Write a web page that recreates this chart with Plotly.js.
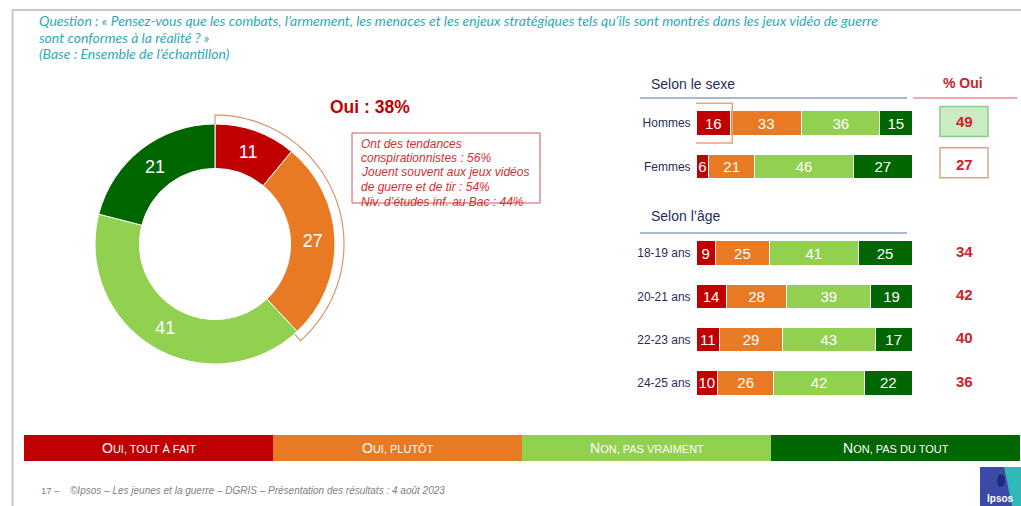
<!DOCTYPE html>
<html>
<head>
<meta charset="utf-8">
<script src="https://cdn.plot.ly/plotly-3.0.1.min.js"></script>
<style>html,body{margin:0;padding:0;background:#fff;}#chart{width:1021px;height:506px;}</style>
</head>
<body>
<div id="chart"></div>
<script>
// ---------- DATA ----------
const questionLines = [
  "Question : « Pensez-vous que les combats, l’armement, les menaces et les enjeux stratégiques tels qu’ils sont montrés dans les jeux vidéo de guerre",
  "sont conformes à la réalité ? »"
];
const baseNote = "(Base : Ensemble de l’échantillon)";
const categories = ["Oui, tout à fait", "Oui, plutôt", "Non, pas vraiment", "Non, pas du tout"];
const totalValues = [11, 27, 41, 21];
const yesNotes = [
  "Ont des tendances",
  "conspirationnistes : 56%",
  "Jouent souvent aux jeux vidéos",
  "de guerre et de tir : 54%",
  "Niv. d’études inf. au Bac : 44%"
];
const sexTitle = "Selon le sexe";
const ageTitle = "Selon l’âge";
const ouiTitle = "% Oui";
const sexLabels = ["Hommes", "Femmes"];
const ageLabels = ["18-19 ans", "20-21 ans", "22-23 ans", "24-25 ans"];
// values per group: Hommes, Femmes, 18-19, 20-21, 22-23, 24-25
const toutAFait   = [16, 6, 9, 14, 11, 10];
const plutot      = [33, 21, 25, 28, 29, 26];
const pasVraiment = [36, 46, 41, 39, 43, 42];
const pasDuTout   = [15, 27, 25, 19, 17, 22];
const footerNum = "17 –";
const footerText = "©Ipsos – Les jeunes et la guerre – DGRIS – Présentation des résultats : 4 août 2023";

// ---------- STYLE ----------
const colors = ["#c00000", "#e97a24", "#92d050", "#006600"];
const W = 1021, H = 506;
const SANS = "Liberation Sans, Arial, sans-serif";
const navy = "#1f2e5c";
const red = "#d0202a";
function px(x) { return x / W; }
function py(y) { return 1 - y / H; }

// ---------- ROWS ----------
const groupLabels = sexLabels.concat(ageLabels);
const rows = sexLabels.map((_, i) => i).concat(ageLabels.map((_, i) => sexLabels.length + 1 + i));
const seriesValues = [toutAFait, plutot, pasVraiment, pasDuTout];

// ---------- TRACES ----------
const pieDom = { x0: 95, x1: 335, y0: 124, y1: 364 };
const traces = [];
traces.push({
  type: "pie",
  values: totalValues,
  labels: categories,
  sort: false,
  direction: "clockwise",
  rotation: 0,
  hole: 0.63,
  marker: { colors: colors, line: { color: "#ffffff", width: 1 } },
  textinfo: "value",
  textposition: "inside",
  insidetextorientation: "horizontal",
  textfont: { family: SANS, size: 18, color: "#ffffff" },
  domain: { x: [px(pieDom.x0), px(pieDom.x1)], y: [py(pieDom.y1), py(pieDom.y0)] },
  showlegend: false,
  hoverinfo: "label+value"
});
seriesValues.forEach((vals, k) => {
  traces.push({
    type: "bar",
    orientation: "h",
    name: categories[k],
    x: vals,
    y: rows,
    width: 0.56,
    marker: { color: colors[k], line: { color: "#ffffff", width: 1 } },
    text: vals.map(String),
    textposition: "inside",
    insidetextanchor: "middle",
    textangle: 0,
    constraintext: "none",
    textfont: { family: SANS, size: 15, color: "#ffffff" },
    xaxis: "x", yaxis: "y",
    showlegend: false
  });
});

// ---------- SHAPES ----------
const shapes = [];
// frame
shapes.push({ type: "line", xref: "paper", yref: "paper", x0: px(12), x1: px(1021), y0: py(10), y1: py(10), line: { color: "#c8c8c8", width: 2 } });
shapes.push({ type: "line", xref: "paper", yref: "paper", x0: px(12.5), x1: px(12.5), y0: py(10), y1: py(506), line: { color: "#c8c8c8", width: 2 } });

// bracket around the "Oui" part of the donut
const cx = (pieDom.x0 + pieDom.x1) / 2, cy = (pieDom.y0 + pieDom.y1) / 2;
const rOut = (pieDom.x1 - pieDom.x0) / 2;
const yesShare = (totalValues[0] + totalValues[1]) / 100;
const thEnd = 2 * Math.PI * yesShare + 0.03;
const Rb = rOut + 9;
function pt(r, th) { return px(cx + r * Math.sin(th)).toFixed(5) + "," + py(cy - r * Math.cos(th)).toFixed(5); }
let path = "M" + pt(rOut, 0) + " L" + pt(Rb, 0);
for (let i = 1; i <= 60; i++) path += " L" + pt(Rb, thEnd * i / 60);
path += " L" + pt(rOut + 1, thEnd);
shapes.push({ type: "path", xref: "paper", yref: "paper", path: path, line: { color: "#d9956b", width: 1.2 } });

// note box
shapes.push({ type: "rect", xref: "paper", yref: "paper", x0: px(352), x1: px(540), y0: py(203), y1: py(133), line: { color: "#e05050", width: 1 } });

// section header lines
shapes.push({ type: "line", xref: "paper", yref: "paper", x0: px(640), x1: px(907), y0: py(98), y1: py(98), line: { color: "#a9b8d2", width: 2 } });
shapes.push({ type: "line", xref: "paper", yref: "paper", x0: px(913), x1: px(1017), y0: py(98), y1: py(98), line: { color: "#f4a8b0", width: 2 } });
shapes.push({ type: "line", xref: "paper", yref: "paper", x0: px(640), x1: px(907), y0: py(233), y1: py(233), line: { color: "#a9b8d2", width: 2 } });

// highlight on Hommes "tout à fait"
shapes.push({ type: "rect", xref: "x", yref: "y", x0: -3.3, x1: toutAFait[0] + 0.8, y0: rows[0] - 0.46, y1: rows[0] + 0.46, line: { color: "#f2a070", width: 1.5 } });

// % Oui boxes for sex rows
shapes.push({ type: "rect", xref: "paper", yref: "y", x0: px(940), x1: px(988), y0: rows[0] - 0.38, y1: rows[0] + 0.31, fillcolor: "#c9ecc4", line: { color: "#86cf86", width: 1.5 } });
shapes.push({ type: "rect", xref: "paper", yref: "y", x0: px(940), x1: px(988), y0: rows[1] - 0.43, y1: rows[1] + 0.26, fillcolor: "#ffffff", line: { color: "#dba484", width: 1.5 } });

// bottom legend band
const bandX0 = 24, bandX1 = 1020, bandY0 = 435, bandY1 = 461;
const segW = (bandX1 - bandX0) / categories.length;
categories.forEach((c, k) => {
  shapes.push({ type: "rect", xref: "paper", yref: "paper", x0: px(bandX0 + k * segW), x1: px(bandX0 + (k + 1) * segW), y0: py(bandY1), y1: py(bandY0), fillcolor: colors[k], line: { width: 0 } });
});

// Ipsos logo
shapes.push({ type: "rect", xref: "paper", yref: "paper", x0: px(980), x1: px(1021), y0: py(506), y1: py(467), fillcolor: "#3a4aa6", line: { width: 0 } });
shapes.push({ type: "path", xref: "paper", yref: "paper",
  path: "M" + px(1004) + "," + py(467) + " L" + px(1021) + "," + py(467) + " L" + px(1021) + "," + py(506) + " L" + px(1012) + "," + py(506) + " Z",
  fillcolor: "#2fb8b8", line: { width: 0 } });
shapes.push({ type: "circle", xref: "paper", yref: "paper", x0: px(997), x1: px(1005), y0: py(487), y1: py(474), fillcolor: "#1d2a80", line: { width: 0 } });

// ---------- ANNOTATIONS ----------
const ann = [];
function A(o) { ann.push(Object.assign({ showarrow: false, xref: "paper", yref: "paper" }, o)); }

const teal = "#2eaab6";
const TF = { family: "Lato, sans-serif", size: 14, color: teal };
A({ x: px(37), y: py(21), xanchor: "left", yanchor: "middle", text: "<i>" + questionLines[0] + "</i>", font: TF });
A({ x: px(37), y: py(37), xanchor: "left", yanchor: "middle", text: "<i>" + questionLines[1] + "</i>", font: TF });
A({ x: px(37), y: py(53), xanchor: "left", yanchor: "middle", text: "<i>" + baseNote + "</i>", font: TF });

A({ x: px(328), y: py(107), xanchor: "left", yanchor: "middle", text: "<b>Oui : " + Math.round(yesShare * 100) + "%</b>", font: { family: SANS, size: 17.5, color: "#c00000" } });
yesNotes.forEach((t, i) => {
  A({ x: px(359), y: py(143.5 + i * 14.5), xanchor: "left", yanchor: "middle", text: "<i>" + t + "</i>", font: { family: SANS, size: 12, color: "#d43030" } });
});

A({ x: px(649), y: py(84), xanchor: "left", yanchor: "middle", text: sexTitle, font: { family: SANS, size: 14, color: navy } });
A({ x: px(649), y: py(216), xanchor: "left", yanchor: "middle", text: ageTitle, font: { family: SANS, size: 14, color: navy } });
A({ x: px(963), y: py(83), xanchor: "center", yanchor: "middle", text: "<b>" + ouiTitle + "</b>", font: { family: SANS, size: 14, color: red } });

// % Oui values computed from data
rows.forEach((r, i) => {
  ann.push({ showarrow: false, xref: "paper", yref: "y", x: px(964), y: r - 0.04, xanchor: "center", yanchor: "middle",
    text: "<b>" + (toutAFait[i] + plutot[i]) + "</b>", font: { family: SANS, size: 15, color: red } });
});

// legend band labels in small caps
function smallCaps(s) {
  const u = s.toUpperCase();
  return u[0] + '<span style="font-size:11px">' + u.slice(1) + "</span>";
}
categories.forEach((c, k) => {
  A({ x: px(bandX0 + (k + 0.5) * segW), y: py((bandY0 + bandY1) / 2), xanchor: "center", yanchor: "middle", text: smallCaps(c), font: { family: SANS, size: 14, color: "#ffffff" } });
});

// footer
A({ x: px(39), y: py(490), xanchor: "left", yanchor: "middle", text: footerNum, font: { family: SANS, size: 9.5, color: "#7f7f7f" } });
A({ x: px(68), y: py(490), xanchor: "left", yanchor: "middle", text: "<i>" + footerText + "</i>", font: { family: SANS, size: 10, color: "#7f7f7f" } });
A({ x: px(1000), y: py(498), xanchor: "center", yanchor: "middle", text: "<b>Ipsos</b>", font: { family: SANS, size: 10, color: "#ffffff" } });

// ---------- LAYOUT ----------
const rowTop = rows[0] - 0.5, rowBot = rows[rows.length - 1] + 0.5;
const layout = {
  width: W, height: H, autosize: false,
  margin: { l: 0, r: 0, t: 0, b: 0, pad: 0 },
  paper_bgcolor: "#ffffff", plot_bgcolor: "rgba(0,0,0,0)",
  showlegend: false,
  barmode: "stack",
  xaxis: { domain: [px(696), px(912)], range: [0, 100], visible: false, fixedrange: true },
  yaxis: { domain: [py(404.6), py(101.4)], range: [rowBot, rowTop], tickvals: rows, ticktext: groupLabels,
    showgrid: false, zeroline: false, showline: false, ticks: "outside", ticklen: 2, tickcolor: "rgba(0,0,0,0)",
    tickfont: { family: SANS, size: 12, color: navy }, fixedrange: true },
  shapes: shapes,
  annotations: ann
};

Plotly.newPlot("chart", traces, layout, { displayModeBar: false, staticPlot: true });
</script>
</body>
</html>
